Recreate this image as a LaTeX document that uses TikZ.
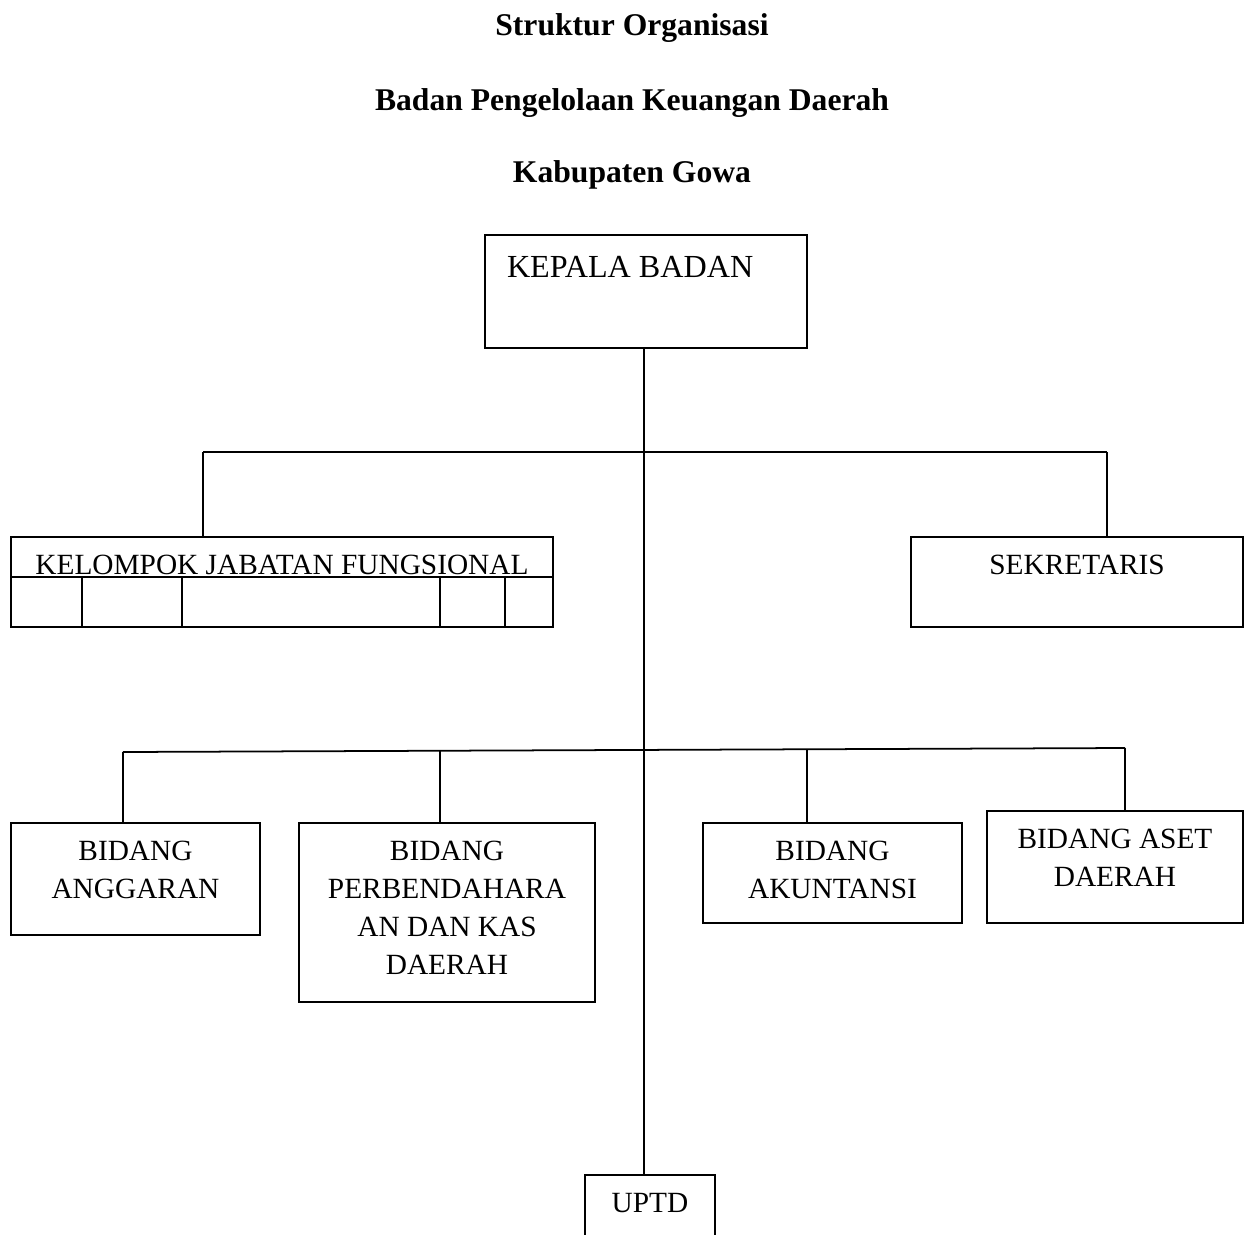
\documentclass[tikz,border=0pt]{standalone}
\usepackage{fontspec}
\setmainfont{Liberation Serif}
\usepackage{tikz}

\begin{document}
\begin{tikzpicture}
    [x=0.02cm, y=-0.02cm,
    line width=1pt,
    box/.style={draw, inner sep=0pt},
    boxtext/.style={anchor=north, align=center, inner sep=0pt, yshift=-0.37cm,
      font=\fontsize{16.7}{21.5}\selectfont},
    heading/.style={anchor=base, inner sep=0pt,
      font=\fontsize{18}{22}\selectfont\bfseries}]
    \useasboundingbox (0,0) rectangle (1249,1235);
    \node[heading] (title1) at (632,35.5) {Struktur Organisasi};
    \node[heading] (title2) at (632,110.5) {Badan Pengelolaan Keuangan Daerah};
    \node[heading] (title3) at (632,182.5) {Kabupaten Gowa};

    \node[box, minimum width=6.44cm, minimum height=2.26cm] (kepala) at (646,291.5) {};
    \node[boxtext, anchor=north west, xshift=0.44cm, yshift=-0.06cm,
      font=\fontsize{18.3}{22}\selectfont] (kepalatxt) at (kepala.north west) {KEPALA BADAN};

    \node[box, minimum width=10.84cm, minimum height=1.8cm] (kelompok) at (282,582) {};
    \node[boxtext] (kelompoktxt) at (kelompok.north) {KELOMPOK JABATAN FUNGSIONAL};
    \draw (kelompok.west |- 0,577) -- (kelompok.east |- 0,577);
    \foreach \x in {82,182,440,505}
      \draw (\x,577) -- (kelompok.south -| \x,0);

    \node[box, minimum width=6.64cm, minimum height=1.8cm] (sekretaris) at (1077,582) {};
    \node[boxtext] (sekretaristxt) at (sekretaris.north) {SEKRETARIS};

    \node[box, minimum width=4.98cm, minimum height=2.24cm] (anggaran) at (135.5,879) {};
    \node[boxtext] (anggarantxt) at (anggaran.north) {BIDANG\\ANGGARAN};
    \node[box, minimum width=5.92cm, minimum height=3.58cm] (perbendaharaan) at (447,912.5) {};
    \node[boxtext] (perbendaharaantxt) at (perbendaharaan.north) {BIDANG\\PERBENDAHARA\\AN DAN KAS\\DAERAH};
    \node[box, minimum width=5.18cm, minimum height=2cm] (akuntansi) at (832.5,873) {};
    \node[boxtext] (akuntansitxt) at (akuntansi.north) {BIDANG\\AKUNTANSI};
    \node[box, minimum width=5.12cm, minimum height=2.24cm] (aset) at (1115,867) {};
    \node[boxtext] (asettxt) at (aset.north) {BIDANG ASET\\DAERAH};

    \node[box, minimum width=2.6cm, minimum height=1.4cm] (uptd) at (650,1210) {};
    \node[boxtext] (uptdtxt) at (uptd.north) {UPTD};

    \coordinate (spine) at (644,348);
    \draw (spine) -- (spine |- uptd.north);

    \coordinate (jl) at (203,452);
    \coordinate (jr) at (1107,452);
    \draw (jl) -- (jr);
    \draw (jl) -- (jl |- kelompok.north);
    \draw (jr) -- (jr |- sekretaris.north);

    \coordinate (bl) at (123,752);
    \coordinate (b2) at (440,751);
    \coordinate (b3) at (807,749);
    \coordinate (br) at (1125,748);
    \draw (bl) -- (br);
    \draw (bl) -- (bl |- anggaran.north);
    \draw (b2) -- (b2 |- perbendaharaan.north);
    \draw (b3) -- (b3 |- akuntansi.north);
    \draw (br) -- (br |- aset.north);
\end{tikzpicture}
\end{document}
